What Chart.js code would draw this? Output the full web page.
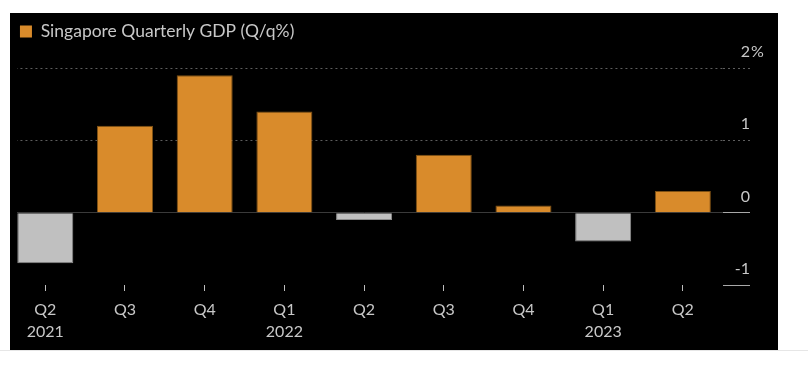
<!DOCTYPE html>
<html>
<head>
<meta charset="utf-8">
<script src="https://cdn.jsdelivr.net/npm/chart.js@4.4.1/dist/chart.umd.min.js"></script>
<style>
  html, body { margin: 0; padding: 0; background: #fff; }
  canvas { display: block; }
</style>
</head>
<body>
<canvas id="gdp" width="808" height="367"></canvas>
<script>
// data
const quarters = ["Q2", "Q3", "Q4", "Q1", "Q2", "Q3", "Q4", "Q1", "Q2"];
const years = ["2021", "", "", "2022", "", "", "", "2023", ""];
const gdpValues = [-0.7, 1.2, 1.9, 1.4, -0.1, 0.8, 0.1, -0.4, 0.3];
const yTicks = [-1, 0, 1, 2];
const seriesName = "Singapore Quarterly GDP (Q/q%)";

const ORANGE = "#d98b2b";
const ORANGE_EDGE = "#7d5014";
const GREY = "#c0c0c0";
const GREY_EDGE = "#8c8c8c";
const TEXT = "#c8c8c8";
const FONT = "Lato";

const labels = quarters.map((q, i) => years[i] ? [q, years[i]] : q);

// black panel behind the chart, white page around it
const panel = {
    id: "panel",
    beforeDraw(chart) {
        const ctx = chart.ctx;
        ctx.save();
        ctx.fillStyle = "#fff";
        ctx.fillRect(0, 0, chart.width, chart.height);
        ctx.fillStyle = "#000";
        ctx.fillRect(10, 13, 768, 337);
        ctx.fillStyle = "#e6e6e6";
        ctx.fillRect(0, 350, chart.width, 1);
        ctx.restore();
    },
    beforeDatasetsDraw(chart) {
        // grid lines start at the first bar's left edge
        const a = chart.chartArea;
        const ctx = chart.ctx;
        ctx.save();
        ctx.fillStyle = "#fff";
        ctx.fillRect(0, a.top - 2, 10, a.bottom - a.top + 4);
        ctx.fillStyle = "#000";
        ctx.fillRect(10, a.top - 2, 7, a.bottom - a.top + 4);
        ctx.restore();
    },
    afterDraw(chart) {
        // unit hangs after the top tick label
        const y = chart.scales.y;
        const top = yTicks[yTicks.length - 1];
        const ctx = chart.ctx;
        ctx.save();
        ctx.font = "16px " + FONT;
        ctx.fillStyle = TEXT;
        ctx.textAlign = "left";
        ctx.textBaseline = "middle";
        ctx.fillText("%", 751, y.getPixelForValue(top) - 16);
        ctx.restore();
    }
};

// extra room under the legend
const legendGap = {
    id: "legendGap",
    beforeInit(chart) {
        const fit = chart.legend.fit;
        chart.legend.fit = function () {
            fit.bind(chart.legend)();
            this.height += 17.75;
        };
    }
};

new Chart(document.getElementById("gdp"), {
    type: "bar",
    data: {
        labels: labels,
        datasets: [{
            label: seriesName,
            data: gdpValues,
            backgroundColor: ctx => ctx.raw < 0 ? GREY : ORANGE,
            borderColor: ctx => ctx.raw < 0 ? GREY_EDGE : ORANGE_EDGE,
            borderWidth: 1,
            barPercentage: 0.703,
            categoryPercentage: 1
        }]
    },
    options: {
        responsive: false,
        animation: false,
        layout: {padding: {left: 5.45, right: 58, top: 8.25, bottom: 0}},
        plugins: {
            tooltip: {enabled: false},
            legend: {
                position: "top",
                align: "start",
                labels: {
                    boxWidth: 12,
                    boxHeight: 12,
                    padding: 14.5,
                    color: TEXT,
                    font: {family: FONT, size: 17.5},
                    generateLabels: () => [{
                        text: seriesName,
                        fillStyle: ORANGE,
                        strokeStyle: ORANGE,
                        lineWidth: 0,
                        fontColor: TEXT,
                        hidden: false,
                        datasetIndex: 0
                    }]
                }
            }
        },
        scales: {
            x: {
                offset: true,
                border: {display: false},
                grid: {
                    offset: false,
                    drawOnChartArea: false,
                    tickLength: 6,
                    tickColor: "#bdbdbd",
                    tickWidth: 1
                },
                ticks: {
                    color: TEXT,
                    padding: 8,
                    maxRotation: 0,
                    autoSkip: false,
                    font: {family: FONT, size: 16, lineHeight: "22px"}
                },
                afterFit(scale) { scale.height = 82; }
            },
            y: {
                position: "right",
                min: yTicks[0],
                max: yTicks[yTicks.length - 1],
                afterBuildTicks(scale) { scale.ticks = yTicks.map(v => ({value: v})); },
                afterFit(scale) { scale.width = 27.3; },
                border: {
                    display: false,
                    dash: ctx => ctx.tick && ctx.tick.value > 0 ? [2, 3] : []
                },
                grid: {
                    drawTicks: true,
                    tickLength: 27.3,
                    lineWidth: 1,
                    color: ctx => {
                        const v = ctx.tick.value;
                        if (v === 0) return "#3a3a3a";
                        return v > 0 ? "#5e5e5e" : "rgba(0,0,0,0)";
                    },
                    tickColor: ctx => ctx.tick.value > 0 ? "#5e5e5e" : "#a8a8a8",
                    tickBorderDash: ctx => ctx.tick.value > 0 ? [2, 3] : []
                },
                ticks: {
                    mirror: true,
                    crossAlign: "near",
                    padding: 27.3,
                    labelOffset: -16,
                    color: TEXT,
                    font: {family: FONT, size: 16}
                }
            }
        }
    },
    plugins: [panel, legendGap]
});
</script>
</body>
</html>
